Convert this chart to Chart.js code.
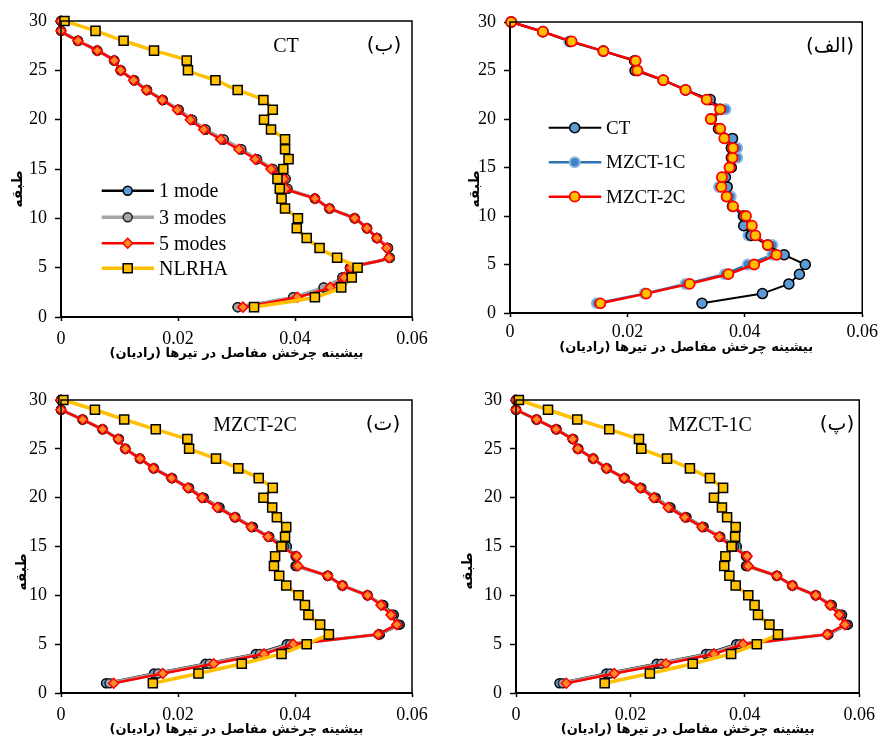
<!DOCTYPE html>
<html>
<head>
<meta charset="utf-8">
<script src="https://cdn.jsdelivr.net/npm/chart.js@4"></script>
<style>
  body { margin: 0; background: #fff; width: 884px; height: 747px; position: relative; overflow: hidden; }
  canvas { position: absolute; }
</style>
</head>
<body>
<canvas id="chart-b" width="442" height="370" style="left:0;top:0"></canvas>
<canvas id="chart-alef" width="442" height="370" style="left:442px;top:0"></canvas>
<canvas id="chart-te" width="442" height="377" style="left:0;top:370px"></canvas>
<canvas id="chart-pe" width="442" height="377" style="left:442px;top:370px"></canvas>
<script>
// floors (طبقه), bottom to top
const floors = [1, 2, 3, 4, 5, 6, 7, 8, 9, 10, 11, 12, 13, 14, 15, 16, 17, 18, 19, 20, 21, 22, 23, 24, 25, 26, 27, 28, 29, 30];
const xTicks = [0, 0.02, 0.04, 0.06];
const yTicks = [0, 5, 10, 15, 20, 25, 30];

// (ب) CT
const ctMode1 = [0.0302, 0.0397, 0.0449, 0.0481, 0.0494, 0.0562, 0.0559, 0.0540, 0.0523, 0.0502, 0.0459, 0.0434, 0.0387, 0.0384, 0.0362, 0.0335, 0.0308, 0.0278, 0.0247, 0.0224, 0.0201, 0.0174, 0.0147, 0.0125, 0.0102, 0.0091, 0.0062, 0.0029, 0, 0];
const ctMode3 = [0.0302, 0.0397, 0.0449, 0.0481, 0.0494, 0.0562, 0.0559, 0.0540, 0.0523, 0.0502, 0.0459, 0.0434, 0.0387, 0.0384, 0.0362, 0.0335, 0.0308, 0.0278, 0.0247, 0.0224, 0.0201, 0.0174, 0.0147, 0.0125, 0.0102, 0.0091, 0.0062, 0.0029, 0, 0];
const ctMode5 = [0.0311, 0.0404, 0.0460, 0.0484, 0.0495, 0.0561, 0.0557, 0.0540, 0.0523, 0.0502, 0.0459, 0.0434, 0.0384, 0.0381, 0.0359, 0.0332, 0.0304, 0.0273, 0.0244, 0.0221, 0.0199, 0.0173, 0.0146, 0.0124, 0.0102, 0.0091, 0.0062, 0.0029, 0, 0];
const ctNlrha = [0.0330, 0.0434, 0.0479, 0.0497, 0.0507, 0.0472, 0.0442, 0.0420, 0.0403, 0.0405, 0.0383, 0.0377, 0.0374, 0.0370, 0.0380, 0.0389, 0.0383, 0.0383, 0.0359, 0.0347, 0.0362, 0.0346, 0.0302, 0.0264, 0.0217, 0.0215, 0.0159, 0.0107, 0.0059, 0.0006];

// (الف) NLRHA of the three structures
const nlCT = [0.0327, 0.0430, 0.0475, 0.0493, 0.0503, 0.0467, 0.0439, 0.0411, 0.0398, 0.0398, 0.0379, 0.0369, 0.0370, 0.0367, 0.0377, 0.0377, 0.0377, 0.0379, 0.0355, 0.0343, 0.0358, 0.0341, 0.0299, 0.0261, 0.0213, 0.0212, 0.0159, 0.0103, 0.0056, 0.0002];
const nlMZ1 = [0.0148, 0.0229, 0.0299, 0.0366, 0.0405, 0.0447, 0.0447, 0.0406, 0.0409, 0.0397, 0.0379, 0.0376, 0.0356, 0.0361, 0.0374, 0.0387, 0.0387, 0.0367, 0.0358, 0.0342, 0.0367, 0.0338, 0.0299, 0.0261, 0.0217, 0.0214, 0.0159, 0.0101, 0.0056, 0.0002];
const nlMZ2 = [0.0154, 0.0232, 0.0306, 0.0372, 0.0416, 0.0454, 0.0439, 0.0418, 0.0412, 0.0402, 0.0380, 0.0369, 0.0360, 0.0361, 0.0374, 0.0379, 0.0380, 0.0365, 0.0358, 0.0342, 0.0358, 0.0335, 0.0299, 0.0261, 0.0217, 0.0214, 0.0159, 0.0105, 0.0056, 0.0002];

// (ت) MZCT-2C
const m2Mode1 = [0.0077, 0.0159, 0.0247, 0.0333, 0.0386, 0.0545, 0.0579, 0.0569, 0.0551, 0.0524, 0.0481, 0.0456, 0.0401, 0.0401, 0.0386, 0.0356, 0.0328, 0.0298, 0.0271, 0.0244, 0.0219, 0.0190, 0.0159, 0.0135, 0.0110, 0.0099, 0.0071, 0.0037, 0, 0];
const m2Mode3 = [0.0083, 0.0166, 0.0254, 0.0340, 0.0392, 0.0543, 0.0576, 0.0566, 0.0549, 0.0524, 0.0481, 0.0456, 0.0403, 0.0402, 0.0381, 0.0355, 0.0326, 0.0297, 0.0269, 0.0242, 0.0218, 0.0189, 0.0158, 0.0135, 0.0110, 0.0098, 0.0071, 0.0037, 0, 0];
const m2Mode5 = [0.0090, 0.0174, 0.0261, 0.0347, 0.0397, 0.0542, 0.0574, 0.0564, 0.0547, 0.0524, 0.0481, 0.0456, 0.0405, 0.0403, 0.0377, 0.0354, 0.0325, 0.0297, 0.0267, 0.0241, 0.0217, 0.0189, 0.0158, 0.0135, 0.0110, 0.0098, 0.0071, 0.0037, 0, 0];
const m2Nlrha = [0.0157, 0.0235, 0.0309, 0.0377, 0.0420, 0.0458, 0.0443, 0.0423, 0.0417, 0.0406, 0.0385, 0.0373, 0.0364, 0.0366, 0.0377, 0.0383, 0.0385, 0.0369, 0.0361, 0.0346, 0.0362, 0.0338, 0.0303, 0.0265, 0.0219, 0.0216, 0.0162, 0.0108, 0.0058, 0.0004];

// (پ) MZCT-1C
const m1Mode1 = [0.0076, 0.0158, 0.0246, 0.0332, 0.0385, 0.0546, 0.0580, 0.0570, 0.0552, 0.0524, 0.0483, 0.0456, 0.0402, 0.0402, 0.0386, 0.0357, 0.0328, 0.0298, 0.0270, 0.0244, 0.0219, 0.0190, 0.0159, 0.0135, 0.0109, 0.0100, 0.0071, 0.0036, 0, 0];
const m1Mode3 = [0.0082, 0.0165, 0.0254, 0.0339, 0.0391, 0.0545, 0.0577, 0.0567, 0.0550, 0.0524, 0.0483, 0.0456, 0.0404, 0.0403, 0.0381, 0.0356, 0.0326, 0.0296, 0.0268, 0.0242, 0.0218, 0.0189, 0.0158, 0.0135, 0.0108, 0.0099, 0.0070, 0.0036, 0, 0];
const m1Mode5 = [0.0088, 0.0172, 0.0262, 0.0346, 0.0397, 0.0544, 0.0575, 0.0565, 0.0549, 0.0524, 0.0483, 0.0456, 0.0406, 0.0404, 0.0377, 0.0355, 0.0325, 0.0295, 0.0266, 0.0241, 0.0217, 0.0189, 0.0158, 0.0135, 0.0108, 0.0099, 0.0070, 0.0036, 0, 0];
const m1Nlrha = [0.0155, 0.0234, 0.0309, 0.0376, 0.0421, 0.0458, 0.0443, 0.0423, 0.0417, 0.0406, 0.0384, 0.0373, 0.0364, 0.0366, 0.0377, 0.0383, 0.0384, 0.0369, 0.0360, 0.0346, 0.0362, 0.0339, 0.0304, 0.0264, 0.0219, 0.0215, 0.0163, 0.0107, 0.0056, 0.0005];

const xTitle = 'بیشینه چرخش مفاصل در تیرها (رادیان)';
const yTitle = 'طبقه';

const serif = "'Liberation Serif', 'Times New Roman', serif";
const persian = "'DejaVu Sans', sans-serif";

function pts(values) {
    return values.map((v, i) => ({ x: v, y: floors[i] }));
}

// series looks
const look = {
    mode1: { label: '1 mode', borderColor: '#000000', borderWidth: 2.5, pointStyle: 'circle', pointRadius: 4.5, pointBackgroundColor: '#5B9BD5', pointBorderColor: '#000000', pointBorderWidth: 1.5, order: 3 },
    mode3: { label: '3 modes', borderColor: '#A5A5A5', borderWidth: 3.5, pointStyle: 'circle', pointRadius: 4.5, pointBackgroundColor: '#A5A5A5', pointBorderColor: '#222222', pointBorderWidth: 1.5, order: 2 },
    mode5: { label: '5 modes', borderColor: '#FF0000', borderWidth: 2.5, pointStyle: 'rectRot', pointRadius: 5, pointBackgroundColor: '#FF8A2A', pointBorderColor: '#FF0000', pointBorderWidth: 1.5, order: 1 },
    nlrha: { label: 'NLRHA', borderColor: '#FFC000', borderWidth: 3.5, pointStyle: 'rect', pointRadius: 6.4, pointBackgroundColor: '#FFC000', pointBorderColor: '#000000', pointBorderWidth: 1.5, order: 0 },
    ct: { label: 'CT', borderColor: '#000000', borderWidth: 2, pointStyle: 'circle', pointRadius: 5, pointBackgroundColor: '#5B9BD5', pointBorderColor: '#000000', pointBorderWidth: 1.5, order: 1 },
    mz1: { label: 'MZCT-1C', borderColor: '#2E75B6', borderWidth: 2.5, pointStyle: 'circle', pointRadius: 5, pointBackgroundColor: '#3D85C6', pointBorderColor: '#8DB9E3', pointBorderWidth: 2, order: 2 },
    mz2: { label: 'MZCT-2C', borderColor: '#FF0000', borderWidth: 2.5, pointStyle: 'circle', pointRadius: 5, pointBackgroundColor: '#FFC000', pointBorderColor: '#FF0000', pointBorderWidth: 1.8, order: 0 }
};

function series(key, values, tension) {
    return Object.assign({ data: pts(values), showLine: true, clip: false, tension: tension || 0 }, look[key]);
}

// frame, legend, panel labels and y title
const panelPlugin = {
    id: 'panel',
    afterDraw(chart, args, o) {
        const ctx = chart.ctx;
        const a = chart.chartArea;
        ctx.save();
        ctx.strokeStyle = '#000';
        ctx.lineWidth = 1.5;
        ctx.strokeRect(a.left, a.top, a.right - a.left, a.bottom - a.top);

        if (o.legend) {
            const L = o.legend;
            L.rows.forEach((y, i) => {
                const ds = chart.data.datasets[L.items[i]];
                ctx.beginPath();
                ctx.strokeStyle = ds.borderColor;
                ctx.lineWidth = ds.borderWidth;
                ctx.moveTo(L.x0, y);
                ctx.lineTo(L.x1, y);
                ctx.stroke();
                ctx.fillStyle = ds.pointBackgroundColor;
                ctx.strokeStyle = ds.pointBorderColor;
                ctx.lineWidth = ds.pointBorderWidth;
                Chart.helpers.drawPoint(ctx, { pointStyle: ds.pointStyle, radius: ds.pointRadius, borderWidth: ds.pointBorderWidth, rotation: 0 }, L.xm, y);
                ctx.fillStyle = '#000';
                ctx.font = L.size + 'px ' + serif;
                ctx.textAlign = 'left';
                ctx.textBaseline = 'middle';
                ctx.fillText(ds.label, L.xt, y + 1);
            });
        }

        ctx.fillStyle = '#000';
        ctx.textAlign = 'center';
        ctx.textBaseline = 'middle';
        (o.texts || []).forEach(t => {
            ctx.font = t.size + 'px ' + (t.fa ? persian : serif);
            ctx.fillText(t.text, t.x, t.y);
        });

        ctx.translate(o.yTitle.x, o.yTitle.y);
        ctx.rotate(-Math.PI / 2);
        ctx.font = 'bold 14px ' + persian;
        ctx.fillText(yTitle, 0, 0);
        ctx.restore();
    }
};

function makeChart(id, datasets, p) {
    const canvas = document.getElementById(id);
    const W = canvas.width, H = canvas.height;
    const tickFont = { family: serif, size: 18, lineHeight: 1 };
    return new Chart(canvas, {
        type: 'scatter',
        data: { datasets: datasets },
        plugins: [panelPlugin],
        options: {
            responsive: false,
            animation: false,
            events: [],
            layout: { autoPadding: false, padding: { left: 0, top: p.area.top, right: W - p.area.right, bottom: 0 } },
            plugins: {
                legend: { display: false },
                tooltip: { enabled: false },
                panel: p
            },
            scales: {
                x: {
                    type: 'linear', position: 'bottom', min: xTicks[0], max: xTicks[xTicks.length - 1],
                    afterBuildTicks: s => { s.ticks = xTicks.map(v => ({ value: v })); },
                    ticks: { font: tickFont, color: '#000', padding: p.tickPad, maxRotation: 0, callback: v => v === 0 ? '0' : v.toFixed(2) },
                    grid: { drawOnChartArea: false, drawTicks: true, tickLength: 4, tickColor: '#000', tickWidth: 1.5 },
                    border: { color: '#000', width: 2 },
                    title: { display: true, text: '\u200F' + xTitle + '\u200F', color: '#000', font: { family: persian, size: 13, weight: 'bold', lineHeight: 1 }, padding: { top: 0, bottom: p.titlePad } },
                    afterFit: s => { s.height = H - p.area.bottom; }
                },
                y: {
                    type: 'linear', position: 'left', min: yTicks[0], max: yTicks[yTicks.length - 1],
                    afterBuildTicks: s => { s.ticks = yTicks.map(v => ({ value: v })); },
                    ticks: { font: tickFont, color: '#000', padding: 8 },
                    grid: { drawOnChartArea: false, drawTicks: true, tickLength: 6, tickColor: '#000', tickWidth: 1.5 },
                    border: { color: '#000', width: 2 },
                    afterFit: s => { s.width = p.area.left; }
                }
            }
        }
    });
}

// (ب)
makeChart('chart-b', [
    series('mode1', ctMode1, 0.2),
    series('mode3', ctMode3, 0.2),
    series('mode5', ctMode5, 0.2),
    series('nlrha', ctNlrha, 0.2)
], {
    area: { left: 61, right: 412, top: 21, bottom: 317 },
    tickPad: 9,
    titlePad: 9.5,
    yTitle: { x: 18, y: 189 },
    legend: { items: [0, 1, 2, 3], rows: [190.7, 217.3, 243.3, 268.3], x0: 101.7, x1: 154, xm: 127.7, xt: 159, size: 20 },
    texts: [{ text: 'CT', x: 286, y: 47, size: 20 }, { text: '(ب)', x: 384, y: 46, size: 20, fa: true }]
});

// (الف)
makeChart('chart-alef', [
    series('ct', nlCT),
    series('mz1', nlMZ1),
    series('mz2', nlMZ2)
], {
    area: { left: 68, right: 424, top: 22, bottom: 313 },
    tickPad: 6,
    titlePad: 16,
    yTitle: { x: 33, y: 189 },
    legend: { items: [0, 1, 2], rows: [127.7, 162.3, 196.7], x0: 106.7, x1: 159.3, xm: 132.7, xt: 164, size: 19 },
    texts: [{ text: '(الف)', x: 388, y: 47, size: 20, fa: true }]
});

// (ت)
makeChart('chart-te', [
    series('mode1', m2Mode1),
    series('mode3', m2Mode3),
    series('mode5', m2Mode5),
    series('nlrha', m2Nlrha)
], {
    area: { left: 61, right: 412, top: 30, bottom: 323 },
    tickPad: 9,
    titlePad: 10.5,
    yTitle: { x: 22, y: 202 },
    texts: [{ text: 'MZCT-2C', x: 255, y: 56, size: 20 }, { text: '(ت)', x: 383, y: 55, size: 20, fa: true }]
});

// (پ)
makeChart('chart-pe', [
    series('mode1', m1Mode1),
    series('mode3', m1Mode3),
    series('mode5', m1Mode5),
    series('nlrha', m1Nlrha)
], {
    area: { left: 74, right: 423, top: 30, bottom: 323 },
    tickPad: 9,
    titlePad: 10.5,
    yTitle: { x: 26, y: 201 },
    texts: [{ text: 'MZCT-1C', x: 268, y: 56, size: 20 }, { text: '(پ)', x: 395, y: 55, size: 20, fa: true }]
});
</script>
</body>
</html>
